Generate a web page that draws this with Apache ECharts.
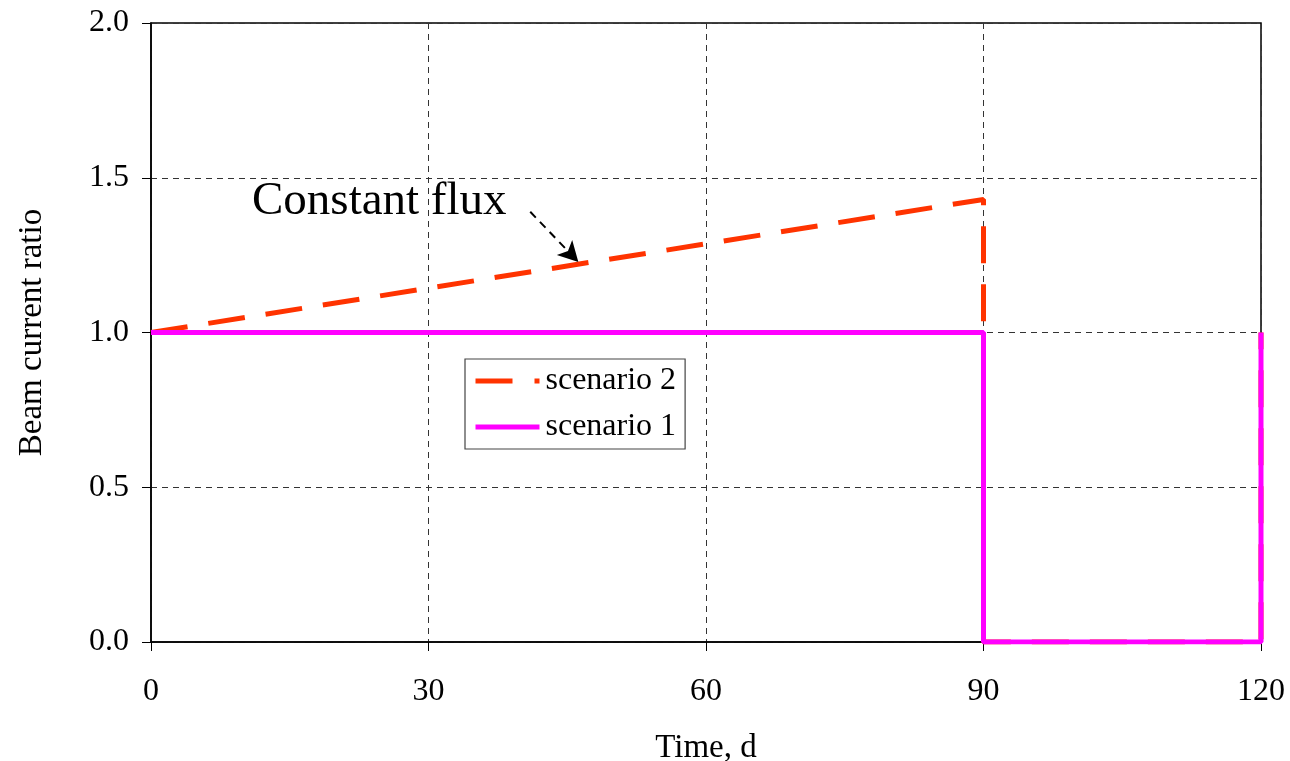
<!DOCTYPE html>
<html>
<head>
<meta charset="utf-8">
<script src="https://cdn.jsdelivr.net/npm/echarts@6/dist/echarts.min.js"></script>
<style>html,body{margin:0;padding:0;background:#fff}#c{width:1290px;height:761px}</style>
</head>
<body>
<div id="c"></div>
<script>
const xTicks = [0, 30, 60, 90, 120];
const yTicks = [0.0, 0.5, 1.0, 1.5, 2.0];
const scenario2Time = [0, 90, 90, 120, 120];
const scenario2Ratio = [1.0, 1.43, 0, 0, 1.0];
const scenario1Time = [0, 90, 90, 120, 120];
const scenario1Ratio = [1.0, 1.0, 0, 0, 1.0];
const arrowFrom = [41.0, 1.39];
const arrowTo = [46.2, 1.228];
const annotationText = 'Constant flux';

const FONT = "'Liberation Serif', 'Times New Roman', serif";
const chart = echarts.init(document.getElementById('c'), null, {renderer: 'canvas'});
const zip = (xs, ys) => xs.map((x, i) => [x, ys[i]]);

chart.setOption({
  animation: false,
  backgroundColor: '#fff',
  grid: {left: 151, right: 29, top: 23, bottom: 119, show: true, borderColor: '#000', borderWidth: 1.5, backgroundColor: 'transparent', containLabel: false, outerBoundsMode: 'none'},
  legend: {
    orient: 'vertical', left: 465, top: 359,
    backgroundColor: '#fff', borderColor: '#444', borderWidth: 1.2,
    padding: [6, 9, 6, 8], itemGap: 14, itemWidth: 64, itemHeight: 20,
    textStyle: {fontFamily: FONT, fontSize: 32, color: '#000', padding: [0, 0, 0, 1]},
    data: [
      {name: 'scenario 2', itemStyle: {opacity: 0}, lineStyle: {width: 5, type: [37, 22], color: '#FF3300'}},
      {name: 'scenario 1', itemStyle: {opacity: 0}, lineStyle: {width: 5, type: 'solid', color: '#FF00FF'}}
    ]
  },
  xAxis: {
    type: 'value', min: xTicks[0], max: xTicks[xTicks.length - 1], interval: 30,
    name: 'Time, d', nameLocation: 'middle', nameGap: 90,
    nameTextStyle: {fontFamily: FONT, fontSize: 33, color: '#000'},
    axisLine: {show: true, lineStyle: {color: '#000', width: 1.5}},
    axisTick: {show: true, length: 9, lineStyle: {color: '#000', width: 1}},
    axisLabel: {fontFamily: FONT, fontSize: 32, color: '#000', margin: 34},
    splitLine: {show: true, lineStyle: {color: '#333', width: 1, type: [6, 5]}}
  },
  yAxis: {
    type: 'value', min: yTicks[0], max: yTicks[yTicks.length - 1], interval: 0.5,
    name: 'Beam current ratio', nameLocation: 'middle', nameGap: 102,
    nameTextStyle: {fontFamily: FONT, fontSize: 33, color: '#000'},
    axisLine: {show: true, lineStyle: {color: '#000', width: 1.5}},
    axisTick: {show: true, length: 9, lineStyle: {color: '#000', width: 1}},
    axisLabel: {fontFamily: FONT, fontSize: 32, color: '#000', margin: 22, formatter: v => v.toFixed(1)},
    splitLine: {show: true, lineStyle: {color: '#333', width: 1, type: [6, 5]}}
  },
  series: [
    {
      name: 'scenario 2', type: 'line', symbol: 'none', z: 2,
      data: zip(scenario2Time, scenario2Ratio),
      lineStyle: {color: '#FF3300', width: 5, type: [37, 21]},
      itemStyle: {color: '#FF3300'},
      markLine: {
        silent: true, symbol: ['none', 'arrow'], symbolSize: [16, 20],
        label: {show: false},
        lineStyle: {color: '#000', width: 2, type: [8, 6]},
        data: [[{coord: arrowFrom}, {coord: arrowTo}]]
      }
    },
    {
      name: 'scenario 1', type: 'line', symbol: 'none', z: 3,
      data: zip(scenario1Time, scenario1Ratio),
      lineStyle: {color: '#FF00FF', width: 5, type: 'solid'},
      itemStyle: {color: '#FF00FF'}
    }
  ],
  graphic: [{
    type: 'text', left: 252, top: 178, z: 10,
    style: {text: annotationText, fontFamily: FONT, fontSize: 47, fill: '#000'}
  }]
});
</script>
</body>
</html>
